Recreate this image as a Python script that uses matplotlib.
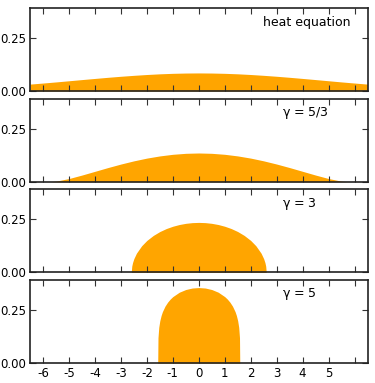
import matplotlib
matplotlib.use("Agg")
import matplotlib.pyplot as plt

# ---- data ----
heat_x = [-6.5, -6.0, -5.5, -5.0, -4.5, -4.0, -3.5, -3.0, -2.5, -2.0, -1.5, -1.0, -0.5,
          0.0, 0.5, 1.0, 1.5, 2.0, 2.5, 3.0, 3.5, 4.0, 4.5, 5.0, 5.5, 6.0, 6.5]
heat_y = [0.0325, 0.0375, 0.0427, 0.0482, 0.0537, 0.0591, 0.0644, 0.0693, 0.0737, 0.0776,
          0.0808, 0.0831, 0.0845, 0.0850, 0.0845, 0.0831, 0.0808, 0.0776, 0.0737, 0.0693,
          0.0644, 0.0591, 0.0537, 0.0482, 0.0427, 0.0375, 0.0325]

g53_x = [-5.7, -5.5, -5.0, -4.5, -4.0, -3.5, -3.0, -2.5, -2.0, -1.5, -1.0, -0.5,
         0.0, 0.5, 1.0, 1.5, 2.0, 2.5, 3.0, 3.5, 4.0, 4.5, 5.0, 5.5, 5.7]
g53_y = [0.0, 0.0024, 0.0149, 0.0312, 0.0488, 0.0664, 0.0830, 0.0980, 0.1109, 0.1212,
         0.1288, 0.1334, 0.1350, 0.1334, 0.1288, 0.1212, 0.1109, 0.0980, 0.0830, 0.0664,
         0.0488, 0.0312, 0.0149, 0.0024, 0.0]

g3_x = [-2.6, -2.58, -2.55, -2.5, -2.4, -2.2, -2.0, -1.75, -1.5, -1.25, -1.0, -0.75, -0.5, -0.25,
        0.0, 0.25, 0.5, 0.75, 1.0, 1.25, 1.5, 1.75, 2.0, 2.2, 2.4, 2.5, 2.55, 2.58, 2.6]
g3_y = [0.0, 0.0291, 0.0459, 0.0646, 0.0904, 0.1252, 0.1502, 0.1738, 0.1920, 0.2061, 0.2169,
        0.2250, 0.2306, 0.2339, 0.2350, 0.2339, 0.2306, 0.2250, 0.2169, 0.2061, 0.1920,
        0.1738, 0.1502, 0.1252, 0.0904, 0.0646, 0.0459, 0.0291, 0.0]

g5_x = [-1.58, -1.57, -1.54, -1.5, -1.45, -1.4, -1.3, -1.2, -1.1, -1.0, -0.75, -0.5, -0.25,
        0.0, 0.25, 0.5, 0.75, 1.0, 1.1, 1.2, 1.3, 1.4, 1.45, 1.5, 1.54, 1.57, 1.58]
g5_y = [0.0, 0.1190, 0.1679, 0.1990, 0.2237, 0.2417, 0.2676, 0.2863, 0.3008, 0.3124, 0.3331,
        0.3458, 0.3528, 0.3550, 0.3528, 0.3458, 0.3331, 0.3124, 0.3008, 0.2863, 0.2676,
        0.2417, 0.2237, 0.1990, 0.1679, 0.1190, 0.0]

panel_labels = ["heat equation", r"$\gamma$ = 5/3", r"$\gamma$ = 3", r"$\gamma$ = 5"]
x_ticks = [-6, -5, -4, -3, -2, -1, 0, 1, 2, 3, 4, 5, 6]
x_ticklabels = ["-6", "-5", "-4", "-3", "-2", "-1", "0", "1", "2", "3", "4", "5", ""]
y_ticks = [0.0, 0.25]
y_ticklabels = ["0.00", "0.25"]

series = [(heat_x, heat_y), (g53_x, g53_y), (g3_x, g3_y), (g5_x, g5_y)]
label_x = [0.691, 0.748, 0.748, 0.748]

plt.rcParams.update({
    "xtick.direction": "in", "ytick.direction": "in",
    "xtick.top": True, "ytick.right": True,
    "xtick.major.size": 4, "ytick.major.size": 4,
    "xtick.major.width": 0.8, "ytick.major.width": 0.8,
    "xtick.color": "#333333", "ytick.color": "#333333",
    "xtick.labelcolor": "black", "ytick.labelcolor": "black",
    "axes.linewidth": 1.2, "axes.edgecolor": "#222222",
    "mathtext.default": "regular",
})

fig, axes = plt.subplots(4, 1, figsize=(3.75, 3.83), dpi=100, sharex=True)
fig.subplots_adjust(left=0.08, right=0.98, bottom=0.052, top=0.979, hspace=0.093)

for ax, (xs, ys), lab, lx in zip(axes, series, panel_labels, label_x):
    ax.fill_between(xs, 0, ys, color="#FFA500", linewidth=0)
    ax.set_xlim(-6.5, 6.5)
    ax.set_ylim(0, 0.39)
    ax.set_yticks(y_ticks)
    ax.set_yticklabels(y_ticklabels, fontsize=8.5)
    ax.set_xticks(x_ticks)
    ax.tick_params(axis="both", pad=3)
    ax.text(lx, 0.83, lab, transform=ax.transAxes, ha="left", va="center",
            fontsize=9, color="black")

axes[-1].set_xticklabels(x_ticklabels, fontsize=8.5)

fig.savefig("out.png", dpi=100)
